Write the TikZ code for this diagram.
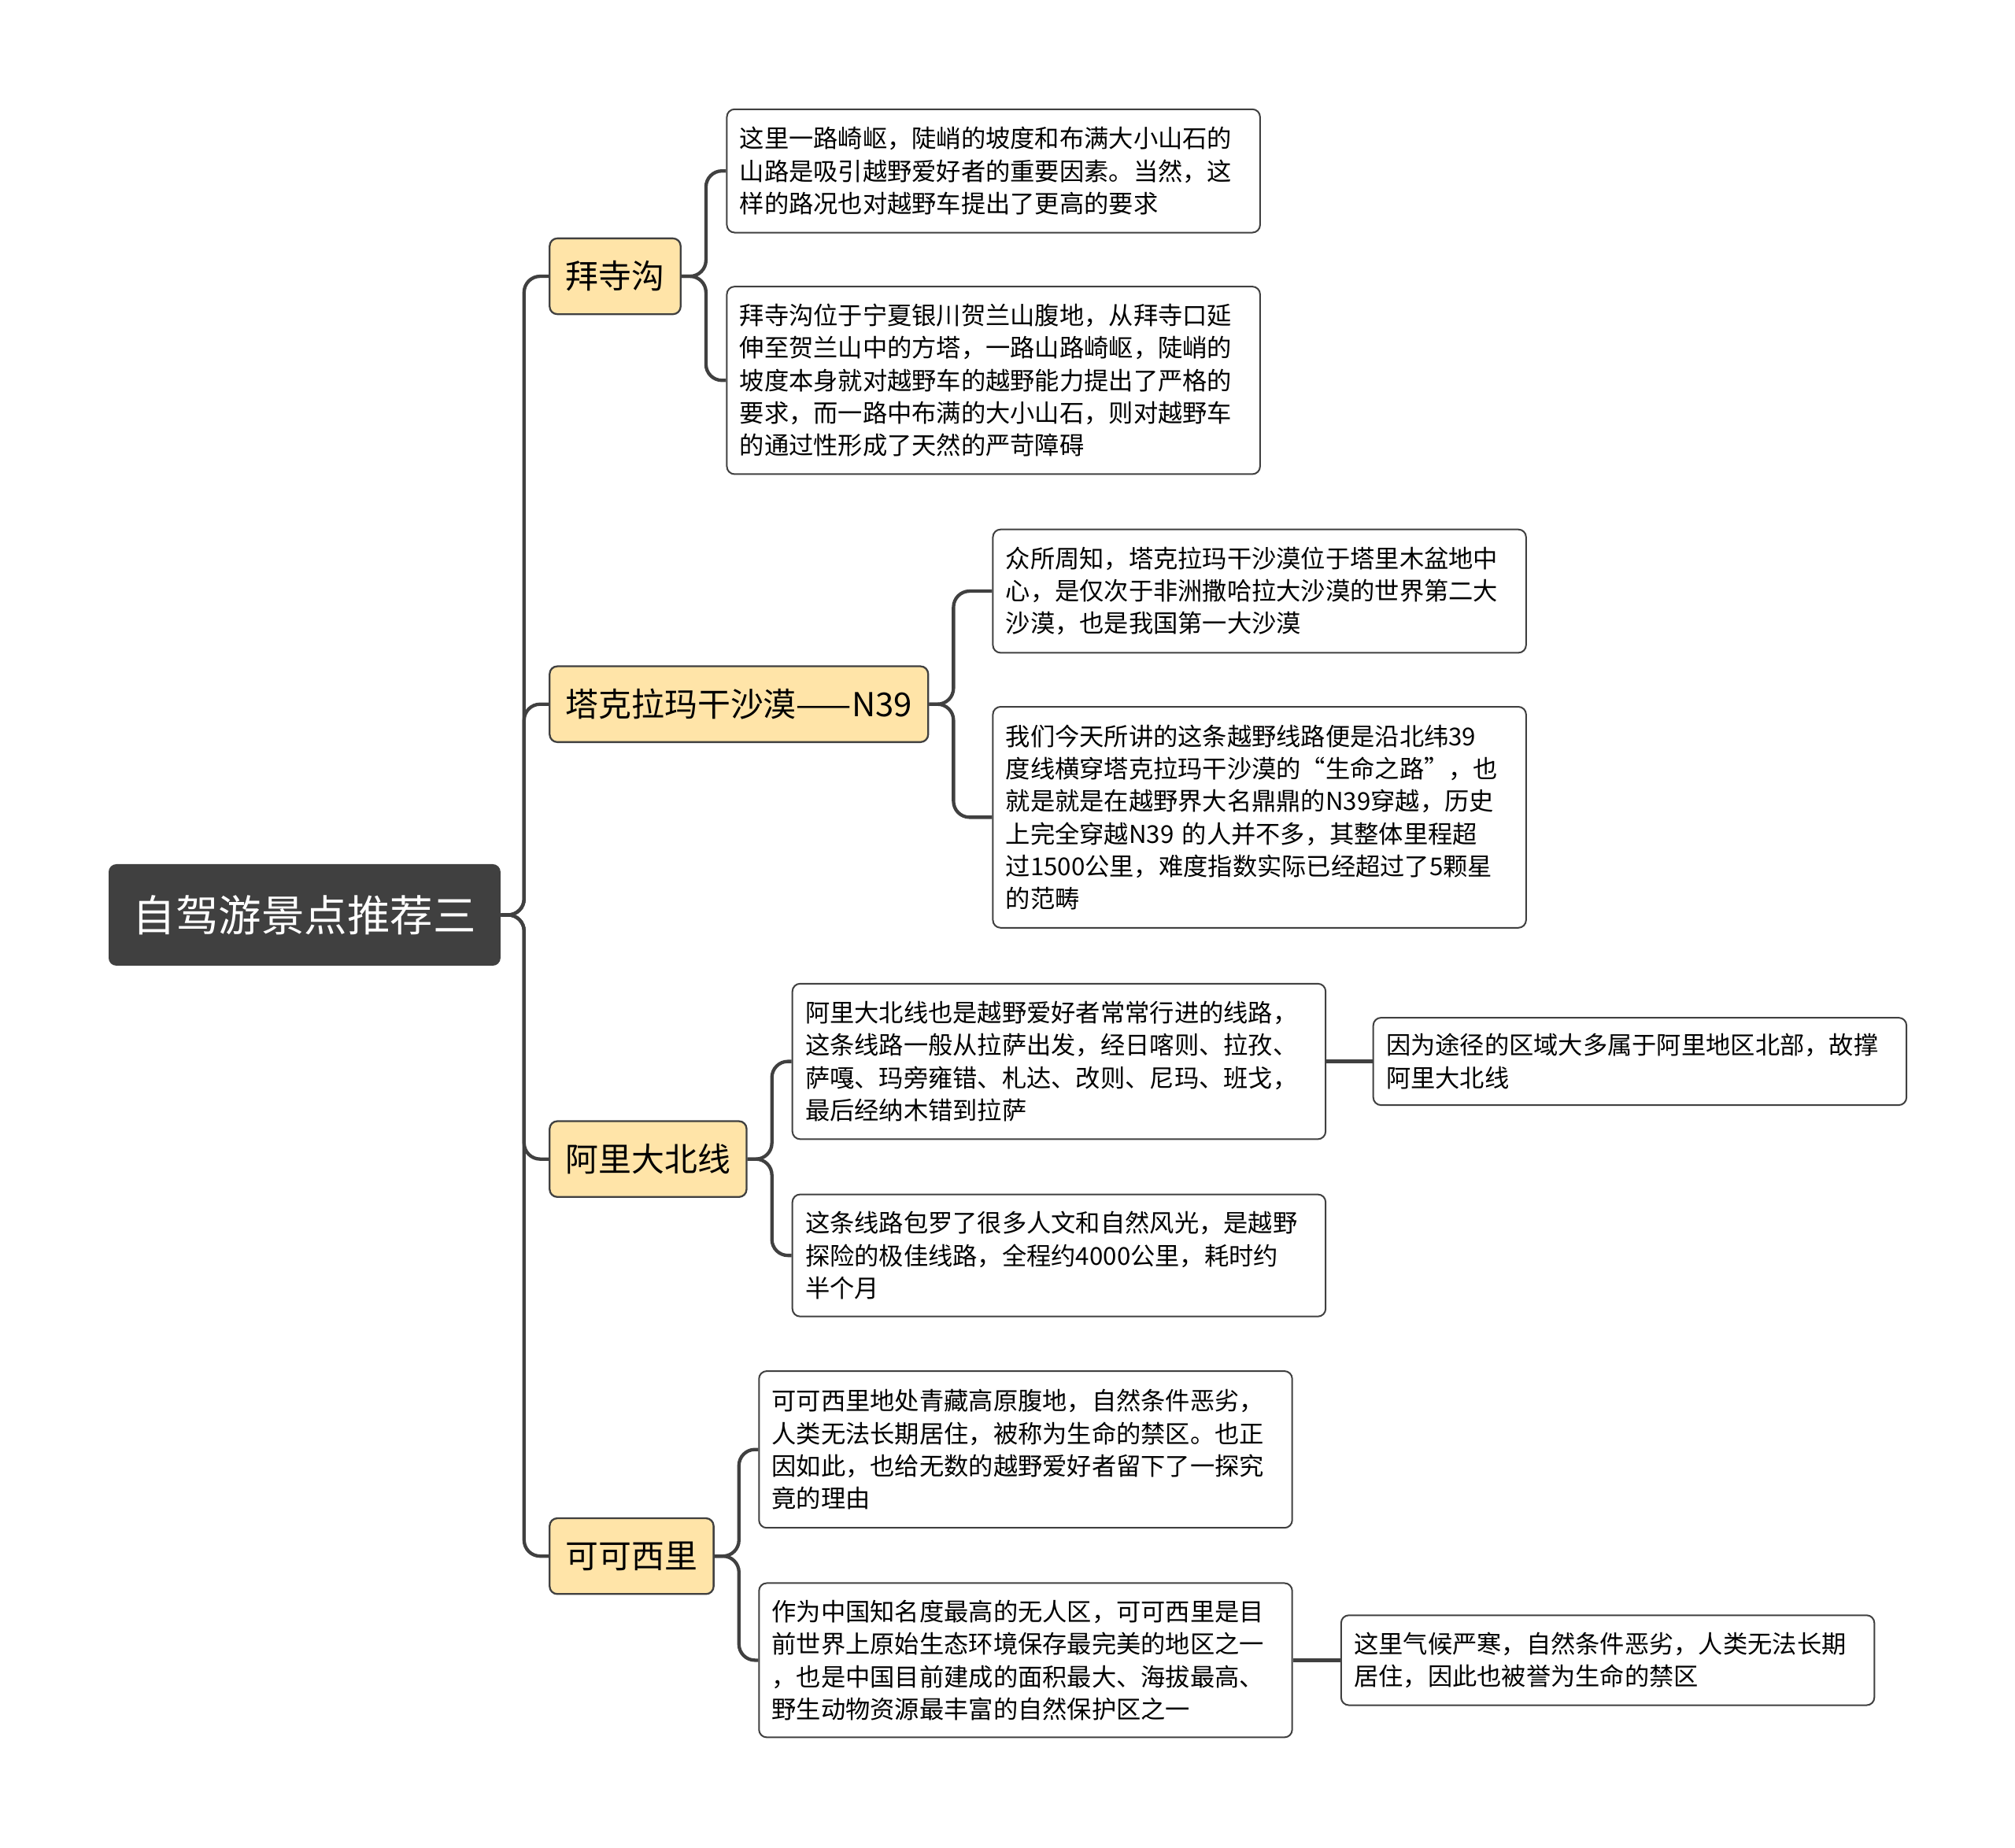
\documentclass[tikz,border=0pt]{standalone}
\usepackage{fontspec}
\setmainfont{Noto Sans CJK SC}
\usetikzlibrary{positioning}
\definecolor{rootfill}{RGB}{64,64,64}
\definecolor{branchfill}{RGB}{255,228,168}
\definecolor{linkcolor}{RGB}{64,64,64}
\tikzset{
    rootnode/.style={
        rectangle, rounded corners=0.12cm, fill=rootfill, text=white,
        minimum width=6.1cm, minimum height=1.58cm, font=\fontsize{19pt}{23pt}\selectfont
    },
    branchnode/.style={
        rectangle, rounded corners=0.12cm, draw=linkcolor, line width=0.8pt, fill=branchfill,
        minimum height=1.18cm, inner xsep=0.25cm, font=\fontsize{14.6pt}{17pt}\selectfont
    },
    leafnode/.style={
        rectangle, rounded corners=0.12cm, draw=linkcolor, line width=0.7pt, fill=white,
        text width=7.9cm, inner xsep=0.2cm, align=left,
        font=\fontsize{10.9pt}{14.4pt}\selectfont
    },
    link/.style={draw=linkcolor, line width=1.5pt, rounded corners=0.25cm}
}
\begin{document}
\begin{tikzpicture}[x=0.02cm, y=-0.02cm]
\useasboundingbox (0,0) rectangle (1568,1438);

% Root
\node[rootnode] (root) at (237,712) {自驾游景点推荐三};

% Branches
\node[branchnode, anchor=west] (bsg) at (427,215) {拜寺沟};
\node[branchnode, anchor=west] (tkl) at (427,548) {塔克拉玛干沙漠——N39};
\node[branchnode, anchor=west] (ali) at (427,902) {阿里大北线};
\node[branchnode, anchor=west] (kkx) at (427,1211) {可可西里};

% Leaves
\node[leafnode, anchor=west, minimum height=1.92cm] (bsg1) at (565,133) {这里一路崎岖，陡峭的坡度和布满大小山石的\\山路是吸引越野爱好者的重要因素。当然，这\\样的路况也对越野车提出了更高的要求};
\node[leafnode, anchor=west, minimum height=2.92cm] (bsg2) at (565,296) {拜寺沟位于宁夏银川贺兰山腹地，从拜寺口延\\伸至贺兰山中的方塔，一路山路崎岖，陡峭的\\坡度本身就对越野车的越野能力提出了严格的\\要求，而一路中布满的大小山石，则对越野车\\的通过性形成了天然的严苛障碍};
\node[leafnode, anchor=west, minimum height=1.92cm] (tkl1) at (772,460) {众所周知，塔克拉玛干沙漠位于塔里木盆地中\\心，是仅次于非洲撒哈拉大沙漠的世界第二大\\沙漠，也是我国第一大沙漠};
\node[leafnode, anchor=west, minimum height=3.44cm] (tkl2) at (772,636) {我们今天所讲的这条越野线路便是沿北纬39\\度线横穿塔克拉玛干沙漠的“生命之路”，也\\就是就是在越野界大名鼎鼎的N39穿越，历史\\上完全穿越N39 的人并不多，其整体里程超\\过1500公里，难度指数实际已经超过了5颗星\\的范畴};
\node[leafnode, anchor=west, minimum height=2.42cm] (ali1) at (616,826) {阿里大北线也是越野爱好者常常行进的线路，\\这条线路一般从拉萨出发，经日喀则、拉孜、\\萨嘎、玛旁雍错、札达、改则、尼玛、班戈，\\最后经纳木错到拉萨};
\node[leafnode, anchor=west, minimum height=1.36cm] (ali11) at (1068,826) {因为途径的区域大多属于阿里地区北部，故撑\\阿里大北线};
\node[leafnode, anchor=west, minimum height=1.9cm] (ali2) at (616,977) {这条线路包罗了很多人文和自然风光，是越野\\探险的极佳线路，全程约4000公里，耗时约\\半个月};
\node[leafnode, anchor=west, minimum height=2.44cm] (kkx1) at (590,1128) {可可西里地处青藏高原腹地，自然条件恶劣，\\人类无法长期居住，被称为生命的禁区。也正\\因如此，也给无数的越野爱好者留下了一探究\\竟的理由};
\node[leafnode, anchor=west, minimum height=2.4cm] (kkx2) at (590,1292) {作为中国知名度最高的无人区，可可西里是目\\前世界上原始生态环境保存最完美的地区之一\\，也是中国目前建成的面积最大、海拔最高、\\野生动物资源最丰富的自然保护区之一};
\node[leafnode, anchor=west, minimum height=1.4cm] (kkx21) at (1043,1292) {这里气候严寒，自然条件恶劣，人类无法长期\\居住，因此也被誉为生命的禁区};

% Connections
\foreach \b in {bsg,tkl,ali,kkx}
  \draw[link] (root.east) -- ++(18,0) |- (\b.west);
\foreach \b/\l in {bsg/bsg1,bsg/bsg2,tkl/tkl1,tkl/tkl2,ali/ali1,ali/ali2,kkx/kkx1,kkx/kkx2}
  \draw[link] (\b.east) -- ++(19,0) |- (\l.west);
\draw[link] (ali1.east) -- (ali11.west);
\draw[link] (kkx2.east) -- (kkx21.west);

\end{tikzpicture}
\end{document}
